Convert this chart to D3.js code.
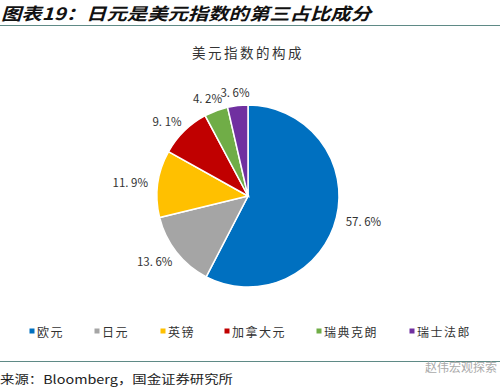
<!DOCTYPE html>
<html>
<head>
<meta charset="utf-8">
<script src="https://cdn.jsdelivr.net/npm/d3@7"></script>
<style>
  body { margin: 0; background: #fff; }
  svg { display: block; font-family: "Noto Sans CJK SC", sans-serif; }
</style>
</head>
<body>
<svg id="chart" width="500" height="388"></svg>
<script>
const categories = ["欧元", "日元", "英镑", "加拿大元", "瑞典克朗", "瑞士法郎"];
const values = [57.6, 13.6, 11.9, 9.1, 4.2, 3.6];
const colors = ["#0070C0", "#A5A5A5", "#FFC000", "#C00000", "#70AD47", "#7030A0"];
const legendX = [32, 97, 163, 227, 319, 412];

const svg = d3.select("#chart");
const cx = 248, cy = 196, r = 91;

// page header
svg.append("text")
  .attr("x", 1).attr("y", 20)
  .attr("font-size", 17).attr("font-style", "italic").attr("font-weight", "bold")
  .attr("fill", "#111")
  .attr("textLength", 370).attr("lengthAdjust", "spacingAndGlyphs")
  .text("图表19：日元是美元指数的第三占比成分");
svg.append("line").attr("x1", 0).attr("x2", 500).attr("y1", 25.5).attr("y2", 25.5)
  .attr("stroke", "#5f8a86").attr("stroke-width", 1.2);

// chart title
svg.append("text")
  .attr("x", cx).attr("y", 58).attr("text-anchor", "middle")
  .attr("font-size", 13.5).attr("letter-spacing", 2.5).attr("fill", "#333")
  .text("美元指数的构成");

const pie = d3.pie().sort(null).value(d => d);
const arcs = pie(values);
const arc = d3.arc().innerRadius(0).outerRadius(r);
const labelArc = d3.arc().innerRadius(r + 8).outerRadius(r + 8);

const g = svg.append("g").attr("transform", `translate(${cx},${cy})`);
g.selectAll("path").data(arcs).enter().append("path")
  .attr("d", arc)
  .attr("fill", (d, i) => colors[i])
  .attr("stroke", "#fff").attr("stroke-width", 1.5);

// labels: box touching a point just outside the rim
g.selectAll(".lbl").data(arcs).enter().append("text")
  .attr("class", "lbl")
  .attr("font-size", 11.5).attr("fill", "#333")
  .attr("text-anchor", "middle").attr("dominant-baseline", "central")
  .text(d => d.data.toFixed(1).replace(".", ". ") + "%")
  .each(function (d) {
    const p = labelArc.centroid(d);
    const a = (d.startAngle + d.endAngle) / 2;
    const w = this.getComputedTextLength();
    d3.select(this)
      .attr("x", p[0] + (w / 2 + 2) * Math.sin(a))
      .attr("y", p[1] - 6 * Math.cos(a));
  });

// legend
const leg = svg.append("g");
categories.forEach((c, i) => {
  leg.append("rect").attr("x", legendX[i] - 2.5).attr("y", 328.5)
    .attr("width", 5).attr("height", 5).attr("fill", colors[i]);
  leg.append("text").attr("x", legendX[i] + 5).attr("y", 331)
    .attr("dominant-baseline", "central")
    .attr("font-size", 12).attr("letter-spacing", 1.5).attr("fill", "#333")
    .text(c);
});

// footer
svg.append("line").attr("x1", 0).attr("x2", 500).attr("y1", 361.5).attr("y2", 361.5)
  .attr("stroke", "#5f8a86").attr("stroke-width", 1.2);
svg.append("text").attr("x", 0).attr("y", 378).attr("dominant-baseline", "central")
  .attr("font-size", 12).attr("fill", "#222")
  .attr("textLength", 233).attr("lengthAdjust", "spacingAndGlyphs")
  .text("来源：Bloomberg，国金证券研究所");
svg.append("text").attr("x", 497).attr("y", 366).attr("text-anchor", "end")
  .attr("dominant-baseline", "central")
  .attr("font-size", 12).attr("fill", "#aaa")
  .text("赵伟宏观探索");
</script>
</body>
</html>
